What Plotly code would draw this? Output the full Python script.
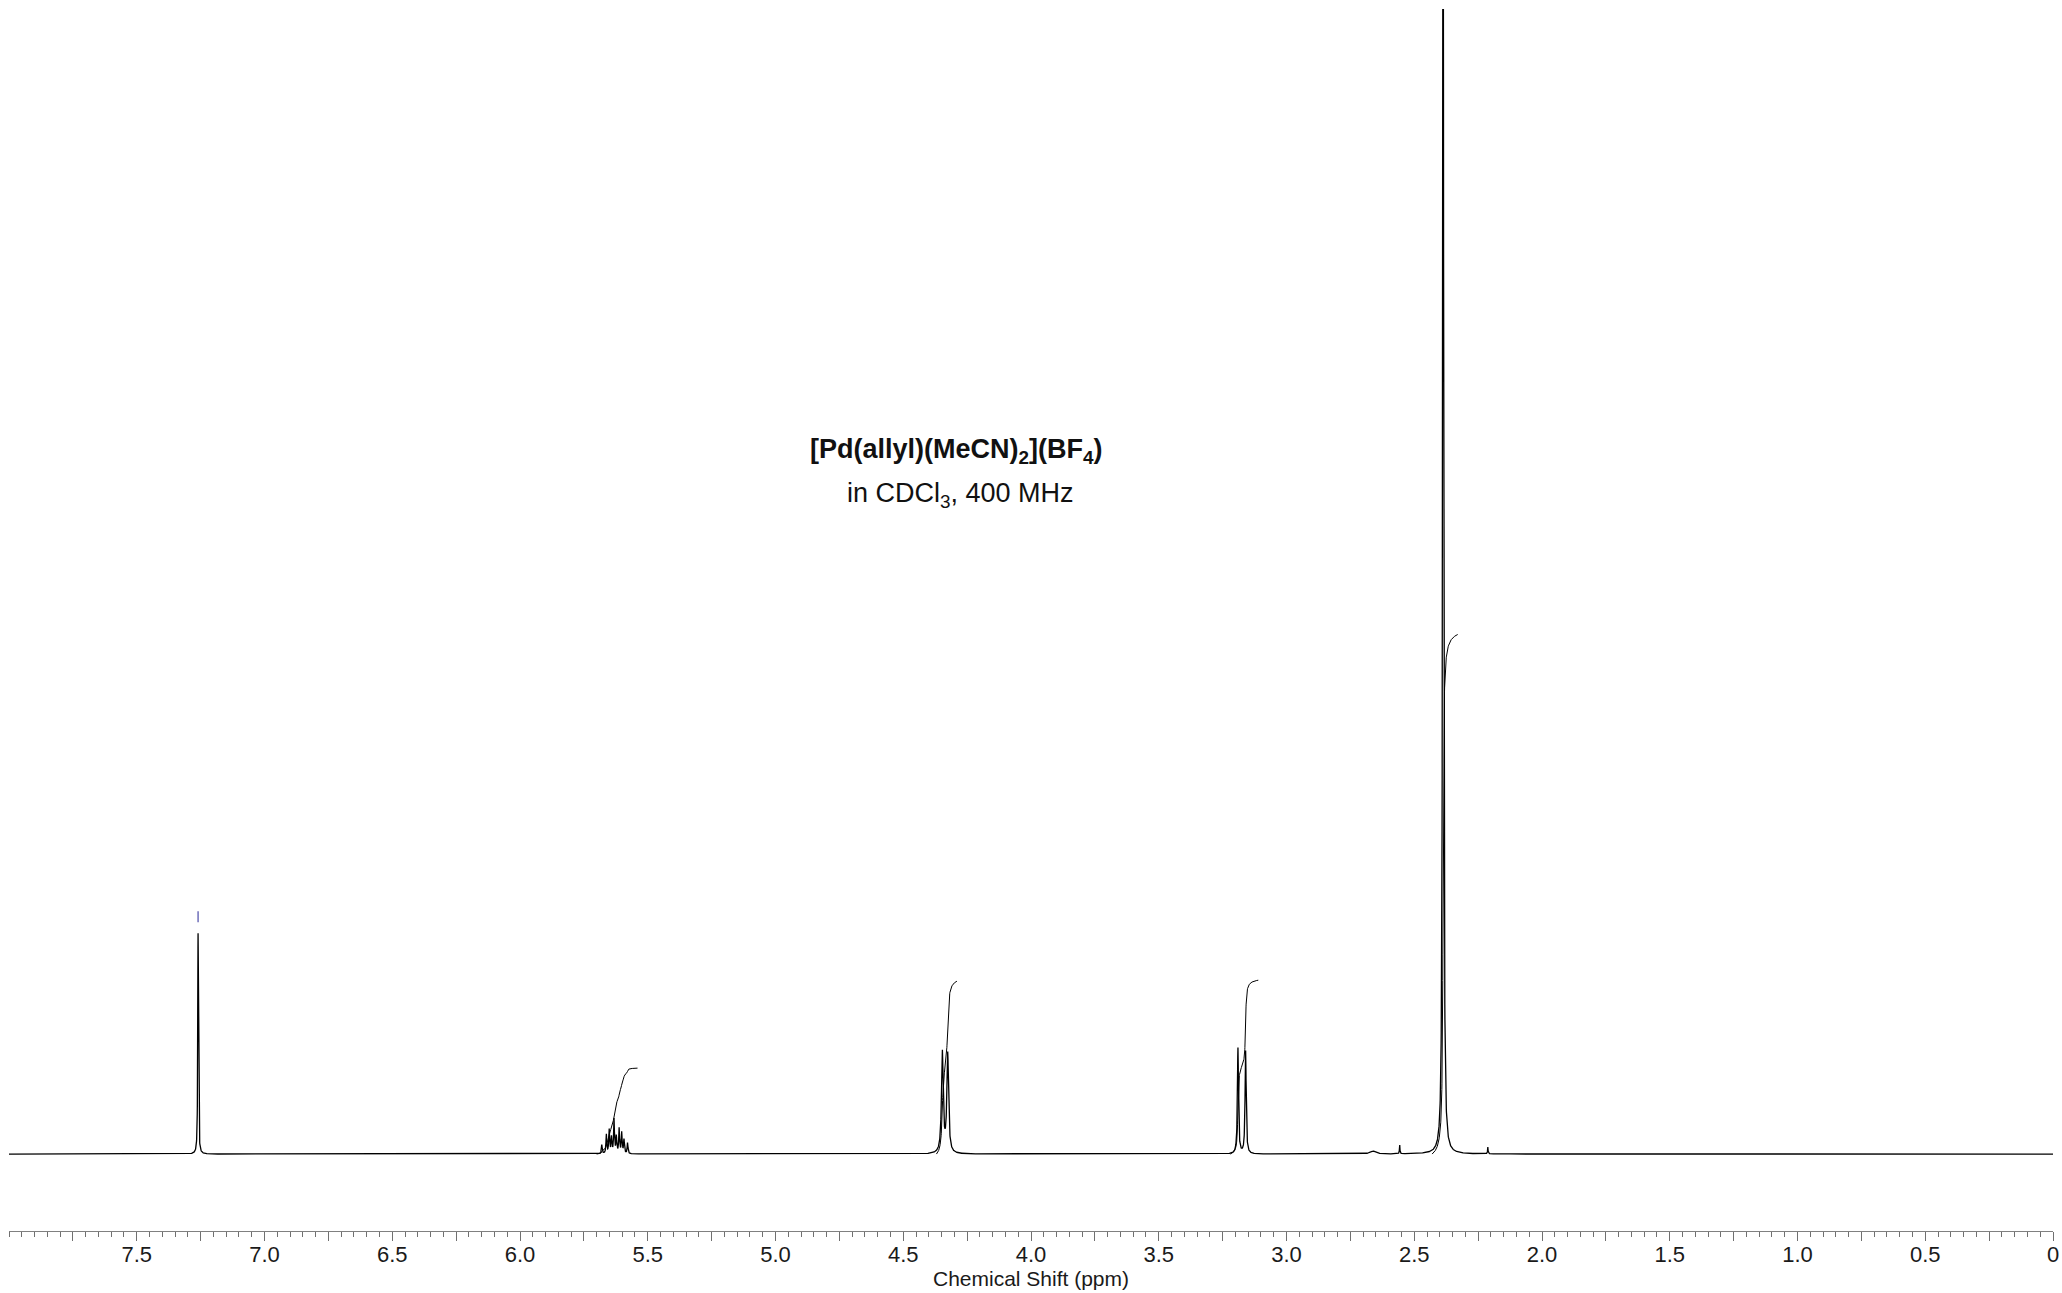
import numpy as np
import plotly.graph_objects as go

# ---- data (1H NMR, CDCl3, 400 MHz) ----
# resolved lines: chemical shift (ppm), height (a.u.), half width at half height (ppm)
peak_shifts = [7.260,
               5.680, 5.662, 5.651, 5.642, 5.632, 5.623, 5.612, 5.602, 5.593, 5.579,
               4.347, 4.326,
               3.190, 3.160,
               2.662, 2.557, 2.387, 2.212]
peak_heights = [221,
                9, 19, 24, 16, 34, 17, 25, 21, 14, 11,
                101, 99,
                106, 103,
                3.0, 9, 1500, 6.7]
peak_halfwidths = [0.0015,
                   0.0019, 0.0019, 0.0019, 0.0019, 0.0019, 0.0019, 0.0019, 0.0019, 0.0019, 0.0019,
                   0.004, 0.004,
                   0.0025, 0.0025,
                   0.012, 0.0012, 0.0022, 0.0012]

# integration regions (ppm) and drawn integral heights (a.u.)
integral_from = [5.70, 4.37, 3.22, 2.43]
integral_to = [5.54, 4.29, 3.11, 2.33]
integral_heights = [86, 173, 174, 520]

# labelled peak (solvent) marker
label_shift = 7.26
label_gap = [11, 22]

tick_values = [7.5, 7.0, 6.5, 6.0, 5.5, 5.0, 4.5, 4.0, 3.5, 3.0, 2.5, 2.0, 1.5, 1.0, 0.5, 0.0]
tick_labels = ["7.5", "7.0", "6.5", "6.0", "5.5", "5.0", "4.5", "4.0", "3.5", "3.0",
               "2.5", "2.0", "1.5", "1.0", "0.5", "0"]
mid_ticks = [7.75, 7.25, 6.75, 6.25, 5.75, 5.25, 4.75, 4.25, 3.75, 3.25, 2.75, 2.25,
             1.75, 1.25, 0.75, 0.25]

# ---- build spectrum from the line list ----
ppm = np.linspace(8.0, 0.0, 20001)
spec = np.zeros_like(ppm)
for x0, h, w in zip(peak_shifts, peak_heights, peak_halfwidths):
    spec += h / (1.0 + ((ppm - x0) / w) ** 2)

fig = go.Figure()
fig.add_trace(go.Scatter(x=ppm, y=spec, mode="lines",
                         line=dict(color="black", width=1.3),
                         hoverinfo="skip", showlegend=False))

for a, b, hgt in zip(integral_from, integral_to, integral_heights):
    m = (ppm <= a) & (ppm >= b)
    xs = ppm[m]
    cs = np.cumsum(spec[m])
    cs = (cs - cs[0]) / (cs[-1] - cs[0]) * hgt
    fig.add_trace(go.Scatter(x=xs, y=cs, mode="lines",
                             line=dict(color="black", width=1.0),
                             hoverinfo="skip", showlegend=False))

h_lab = peak_heights[peak_shifts.index(label_shift)]
fig.add_trace(go.Scatter(x=[label_shift, label_shift],
                         y=[h_lab + label_gap[0], h_lab + label_gap[1]],
                         mode="lines", line=dict(color="#4a4aa8", width=1.2),
                         hoverinfo="skip", showlegend=False))

all_ticks = sorted(tick_values + mid_ticks, reverse=True)
all_text = [tick_labels[tick_values.index(t)] if t in tick_values else "" for t in all_ticks]

font_family = "Liberation Sans, Arial, sans-serif"
fig.update_layout(
    width=2062, height=1293,
    margin=dict(l=9, r=9, t=9, b=62, autoexpand=False),
    paper_bgcolor="white", plot_bgcolor="white",
    showlegend=False,
    font=dict(family=font_family, color="#1a1a1a", size=22),
    xaxis=dict(range=[8.0, 0.0], showgrid=False, zeroline=False, automargin=False,
               showline=True, linecolor="#808080", linewidth=1,
               tickmode="array", tickvals=all_ticks, ticktext=all_text,
               ticks="outside", ticklen=9, tickwidth=1, tickcolor="#707070",
               ticklabelstandoff=-5,
               tickfont=dict(size=22, family=font_family, color="#1a1a1a"),
               minor=dict(ticks="outside", ticklen=5, tickwidth=1,
                          tickcolor="#707070", tickmode="linear", tick0=0, dtick=0.05),
               title=dict(text="Chemical Shift (ppm)", standoff=2,
                          font=dict(size=21, family=font_family, color="#1a1a1a"))),
    yaxis=dict(visible=False, range=[-77, 1146]),
    annotations=[
        dict(text="<b>[Pd(allyl)(MeCN)<sub>2</sub>](BF<sub>4</sub>)</b>",
             xref="paper", yref="paper", x=0.4635, y=0.638, showarrow=False,
             xanchor="center", yanchor="middle",
             font=dict(size=27, family=font_family, color="#111111")),
        dict(text="in CDCl<sub>3</sub>, 400 MHz",
             xref="paper", yref="paper", x=0.4655, y=0.602, showarrow=False,
             xanchor="center", yanchor="middle",
             font=dict(size=27, family=font_family, color="#111111")),
    ],
)

fig.write_html("out.html", config={"displayModeBar": False},
               post_script="document.body.style.margin='0';document.body.style.overflow='hidden';")
